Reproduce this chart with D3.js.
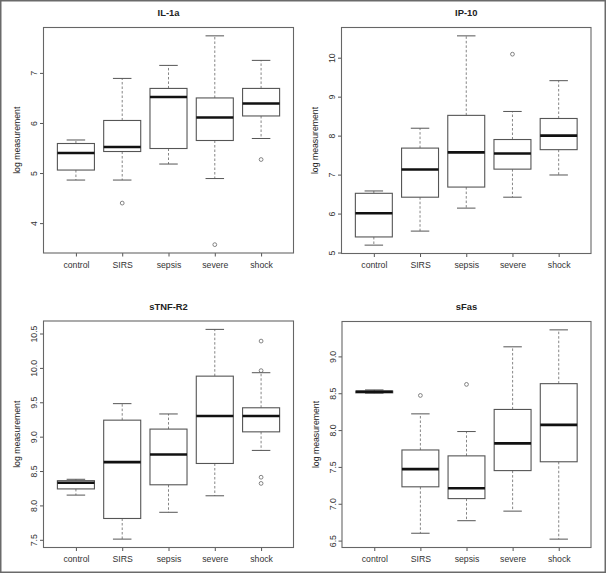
<!DOCTYPE html>
<html>
<head>
<meta charset="utf-8">
<script src="https://cdn.jsdelivr.net/npm/d3@7"></script>
<style>
  html, body { margin: 0; padding: 0; background: #fff; }
  svg { display: block; }
  text { font-family: "Liberation Sans", Arial, Helvetica, sans-serif; }
</style>
</head>
<body>
<svg id="chart" width="606" height="573"></svg>
<script>
// ---------- data ----------
const categories = ["control", "SIRS", "sepsis", "severe", "shock"];

// five-number summaries: [lower whisker, Q1, median, Q3, upper whisker]
const il1aBoxes = [
  [4.86, 5.06, 5.40, 5.59, 5.66],
  [4.86, 5.43, 5.52, 6.05, 6.89],
  [5.18, 5.49, 6.52, 6.69, 7.15],
  [4.89, 5.65, 6.11, 6.50, 7.74],
  [5.69, 6.14, 6.39, 6.69, 7.25]
];
const il1aOutliers = [["SIRS", 4.40], ["severe", 3.57], ["shock", 5.27]];
const il1aTicks = [4, 5, 6, 7];

const ip10Boxes = [
  [5.19, 5.40, 6.01, 6.52, 6.58],
  [5.55, 6.42, 7.13, 7.68, 8.19],
  [6.14, 6.68, 7.57, 8.52, 10.56],
  [6.42, 7.14, 7.54, 7.90, 8.62],
  [6.99, 7.64, 8.00, 8.44, 9.41]
];
const ip10Outliers = [["severe", 10.09]];
const ip10Ticks = [5, 6, 7, 8, 9, 10];

const stnfBoxes = [
  [8.15, 8.24, 8.33, 8.36, 8.38],
  [7.51, 7.81, 8.63, 9.24, 9.48],
  [7.90, 8.30, 8.74, 9.11, 9.33],
  [8.14, 8.61, 9.30, 9.88, 10.56],
  [8.80, 9.07, 9.30, 9.42, 9.93]
];
const stnfOutliers = [["shock", 10.39], ["shock", 9.96], ["shock", 8.41], ["shock", 8.32]];
const stnfTicks = [7.5, 8.0, 8.5, 9.0, 9.5, 10.0, 10.5];

const sfasBoxes = [
  [8.50, 8.505, 8.52, 8.53, 8.545],
  [6.60, 7.23, 7.47, 7.73, 8.22],
  [6.77, 7.07, 7.21, 7.65, 7.98],
  [6.90, 7.45, 7.82, 8.28, 9.13],
  [6.52, 7.57, 8.07, 8.63, 9.36]
];
const sfasOutliers = [["SIRS", 8.47], ["sepsis", 8.62]];
const sfasTicks = [6.5, 7.0, 7.5, 8.0, 8.5, 9.0];

const panels = [
  { title: "IL-1a",   boxes: il1aBoxes, outliers: il1aOutliers, ticks: il1aTicks, fmt: d3.format("d"),   rect: [43.5, 27.5, 293.5, 253] },
  { title: "IP-10",   boxes: ip10Boxes, outliers: ip10Outliers, ticks: ip10Ticks, fmt: d3.format("d"),   rect: [341.5, 27.5, 591, 253.5] },
  { title: "sTNF-R2", boxes: stnfBoxes, outliers: stnfOutliers, ticks: stnfTicks, fmt: d3.format(".1f"), rect: [43.5, 321, 293.5, 547.5] },
  { title: "sFas",    boxes: sfasBoxes, outliers: sfasOutliers, ticks: sfasTicks, fmt: d3.format(".1f"), rect: [342, 321.5, 591, 547.5] }
];

// ---------- drawing ----------
const svg = d3.select("#chart");

// outer frame
svg.append("rect")
  .attr("x", 0.75).attr("y", 0.75).attr("width", 604.5).attr("height", 571.5)
  .attr("fill", "none").attr("stroke", "#6a6a6a").attr("stroke-width", 1.5);

panels.forEach(p => {
  const [L, T, R, B] = p.rect;
  const g = svg.append("g");

  const all = p.boxes.flat().concat(p.outliers.map(o => o[1]));
  const lo = d3.min(all), hi = d3.max(all), ext = (hi - lo) * 0.04;

  const x = d3.scalePoint().domain(categories).range([L, R]).padding(0.7);
  const y = d3.scaleLinear().domain([lo - ext, hi + ext]).range([B, T]);
  const bw = x.step() * 0.8;
  const cap = bw * 0.5;

  // title
  g.append("text")
    .attr("x", (L + R) / 2).attr("y", T - 11.5)
    .attr("text-anchor", "middle")
    .attr("font-size", "9.4px").attr("font-weight", "bold").attr("fill", "#222")
    .text(p.title);

  // y axis label
  g.append("text")
    .attr("transform", `translate(${L - 23.5},${(T + B) / 2}) rotate(-90)`)
    .attr("text-anchor", "middle")
    .attr("font-size", "8.7px").attr("fill", "#222")
    .text("log measurement");

  // y axis
  const yAxis = d3.axisLeft(y).tickValues(p.ticks).tickFormat(p.fmt).tickSize(3.5).tickPadding(2);
  const ya = g.append("g").attr("transform", `translate(${L},0)`).call(yAxis);
  ya.select(".domain").remove();
  ya.selectAll("line").attr("stroke", "#555");
  ya.selectAll("text")
    .attr("font-size", "8.7px").attr("fill", "#333")
    .attr("text-anchor", "middle")
    .attr("x", 0).attr("dy", 0)
    .attr("transform", function() { return `translate(-6.5,0) rotate(-90)`; });

  // x axis
  const xAxis = d3.axisBottom(x).tickSize(3.5).tickPadding(3);
  const xa = g.append("g").attr("transform", `translate(0,${B})`).call(xAxis);
  xa.select(".domain").remove();
  xa.selectAll("line").attr("stroke", "#555");
  xa.selectAll("text").attr("font-size", "8.7px").attr("fill", "#333").attr("dy", "0.95em");

  // boxes
  p.boxes.forEach((b, i) => {
    const cx = x(categories[i]);
    const [wl, q1, md, q3, wh] = b;
    // whiskers (dashed)
    g.append("line").attr("x1", cx).attr("x2", cx).attr("y1", y(q3)).attr("y2", y(wh))
      .attr("stroke", "#777").attr("stroke-width", 0.9).attr("stroke-dasharray", "2.5,2");
    g.append("line").attr("x1", cx).attr("x2", cx).attr("y1", y(q1)).attr("y2", y(wl))
      .attr("stroke", "#777").attr("stroke-width", 0.9).attr("stroke-dasharray", "2.5,2");
    // staples
    g.append("line").attr("x1", cx - cap / 2).attr("x2", cx + cap / 2).attr("y1", y(wh)).attr("y2", y(wh))
      .attr("stroke", "#555").attr("stroke-width", 1);
    g.append("line").attr("x1", cx - cap / 2).attr("x2", cx + cap / 2).attr("y1", y(wl)).attr("y2", y(wl))
      .attr("stroke", "#555").attr("stroke-width", 1);
    // box
    g.append("rect").attr("x", cx - bw / 2).attr("y", y(q3))
      .attr("width", bw).attr("height", Math.max(0.01, y(q1) - y(q3)))
      .attr("fill", "#fff").attr("stroke", "#555").attr("stroke-width", 1.1);
    // median
    g.append("line").attr("x1", cx - bw / 2).attr("x2", cx + bw / 2).attr("y1", y(md)).attr("y2", y(md))
      .attr("stroke", "#111").attr("stroke-width", 2.6);
  });

  // outliers
  g.selectAll("circle.out").data(p.outliers).enter().append("circle")
    .attr("class", "out")
    .attr("cx", d => x(d[0])).attr("cy", d => y(d[1])).attr("r", 1.9)
    .attr("fill", "none").attr("stroke", "#666").attr("stroke-width", 0.8);

  // plot frame
  g.append("rect").attr("x", L).attr("y", T).attr("width", R - L).attr("height", B - T)
    .attr("fill", "none").attr("stroke", "#666").attr("stroke-width", 1.1);
});
</script>
</body>
</html>
